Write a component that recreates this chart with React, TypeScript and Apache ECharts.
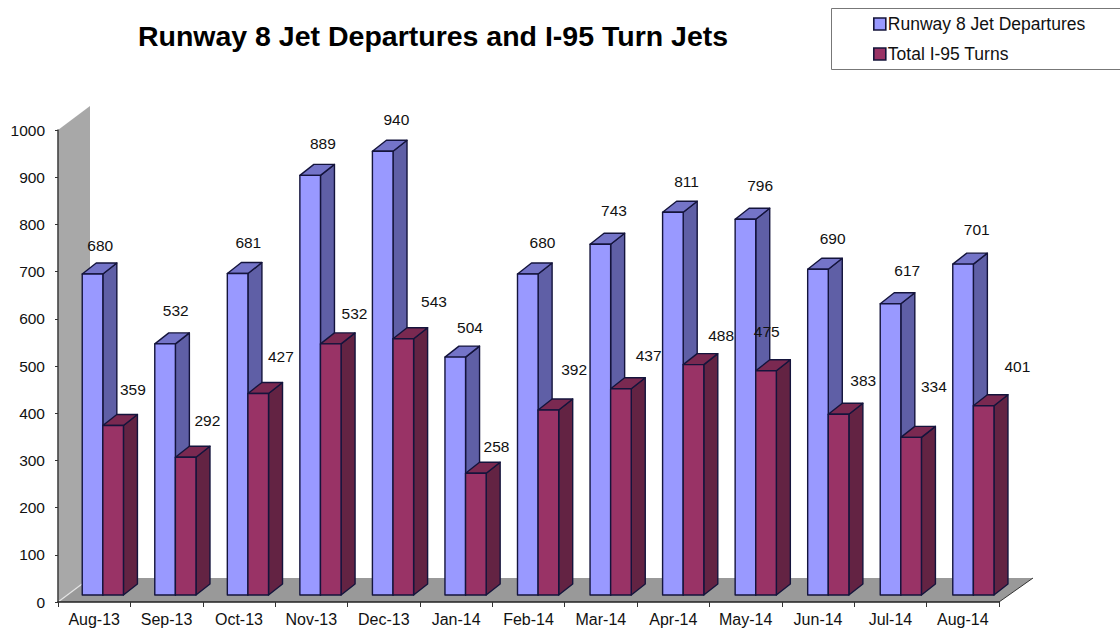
import React, { useEffect, useRef } from "react";
import * as echarts from "echarts";

const categories = ["Aug-13","Sep-13","Oct-13","Nov-13","Dec-13","Jan-14","Feb-14","Mar-14","Apr-14","May-14","Jun-14","Jul-14","Aug-14"];
const departures = [680,532,681,889,940,504,680,743,811,796,690,617,701];
const turns = [359,292,427,532,543,258,392,437,488,475,383,334,401];
const yTicks = [0,1000,100];

// hand-placed data labels of the original chart: centre offset from the bar's front top-left corner
const depLabelDx = [18,21,21,23,24,25,25,24,24,25,25,27,24];
const depLabelDy = [-29,-33,-31,-32,-32,-30,-32,-34,-31,-34,-31,-33,-35];
const turnLabelDx = [30,32,33,34,41,31,36,38,38,11,35,33,44];
const turnLabelDy = [-36,-37,-37,-30,-37,-27,-40,-33,-29,-39,-34,-51,-39];

const FONT = '"Liberation Sans", Arial, sans-serif';
const BAR_W = 20.6;
const BAR_START = -11;
const BAR_DX = 14;
const BAR_DY = -11;
const BASE_LIFT = 7;
const EDGE = "#14143c";

const makeBar = (slot: number, front: string, side: string, top: string) => (params: any, api: any) => {
  const [cx, y0] = api.coord([api.value(0), 0]);
  const [, yv] = api.coord([api.value(0), api.value(1)]);
  const drift = (api.value(0) - 6) * 0.16;
  const x = cx + BAR_START + drift + slot * BAR_W;
  const base = y0 - BASE_LIFT;
  const t = yv - BASE_LIFT;
  const line = { stroke: EDGE, lineWidth: 1.4, lineJoin: "round" };
  return {
    type: "group",
    children: [
      { type: "polygon", shape: { points: [[x + BAR_W, t], [x + BAR_W + BAR_DX, t + BAR_DY], [x + BAR_W + BAR_DX, base + BAR_DY], [x + BAR_W, base]] }, style: { fill: side, ...line } },
      { type: "polygon", shape: { points: [[x, t], [x + BAR_DX, t + BAR_DY], [x + BAR_W + BAR_DX, t + BAR_DY], [x + BAR_W, t]] }, style: { fill: top, ...line } },
      { type: "rect", shape: { x, y: t, width: BAR_W, height: base - t }, style: { fill: front, ...line } },
    ],
  };
};

const makeLabels = (slot: number, dx: number[], dy: number[]) => (params: any, api: any) => {
  const i = api.value(0);
  const [cx] = api.coord([i, 0]);
  const [, yv] = api.coord([i, api.value(1)]);
  const drift = (i - 6) * 0.16;
  const x = cx + BAR_START + drift + slot * BAR_W + dx[params.dataIndex];
  const y = yv - BASE_LIFT + dy[params.dataIndex];
  return {
    type: "text",
    x, y,
    style: { text: String(api.value(1)), fill: "#111", font: `15.5px ${FONT}`, textAlign: "center", textVerticalAlign: "middle" },
  };
};

const renderChrome = (params: any, api: any) => {
  const cs = params.coordSys;
  const [, y0] = api.coord([0, 0]);
  const [, y1] = api.coord([0, 1000]);
  const L = cs.x, R = cs.x + cs.width;
  const wdx = 32, wdy = -24;
  return {
    type: "group",
    silent: true,
    children: [
      { type: "polygon", shape: { points: [[L, y1], [L + wdx, y1 + wdy], [L + wdx, y0 + wdy], [L, y0]] }, style: { fill: "#a8a8a8" } },
      { type: "polygon", shape: { points: [[L, y0], [L + wdx, y0 + wdy], [R + wdx + 2, y0 + wdy], [R, y0]] }, style: { fill: "#999999" } },
      { type: "line", shape: { x1: L, y1: y0, x2: L + 24, y2: y0 - 18 }, style: { stroke: "#e4e4e4", lineWidth: 1.2 } },
      { type: "line", shape: { x1: R, y1: y0, x2: R + wdx + 2, y2: y0 + wdy }, style: { stroke: "#333", lineWidth: 1 } },
    ],
  };
};

export default function App() {
  const ref = useRef<HTMLDivElement>(null);
  useEffect(() => {
    const chart = echarts.init(ref.current!, undefined, { renderer: "svg" });
    chart.setOption({
      animation: false,
      backgroundColor: "#fff",
      title: {
        text: "Runway 8 Jet Departures and I-95 Turn Jets",
        left: 428, top: 16, textAlign: "center",
        textStyle: { fontFamily: FONT, fontSize: 28.5, fontWeight: "bold", color: "#000" },
      },
      legend: {
        left: 873, top: 14, orient: "vertical", itemWidth: 12, itemHeight: 12, itemGap: 10, padding: 0,
        icon: "rect", selectedMode: false,
        data: ["Runway 8 Jet Departures", "Total I-95 Turns"],
        textStyle: { fontFamily: FONT, fontSize: 17.5, color: "#111", padding: [0, 0, 0, -3], lineHeight: 20 },
        itemStyle: { borderColor: "#14143a", borderWidth: 1.6 },
      },
      graphic: [
        { type: "rect", silent: true, shape: { x: 831.5, y: 8.5, width: 320, height: 61 }, style: { fill: "#fff", stroke: "#777", lineWidth: 1 }, z: -1 },
      ],
      grid: { left: 58, top: 130, right: 121, bottom: 29 },
      xAxis: {
        type: "category", data: categories, z: 5,
        axisLine: { lineStyle: { color: "#222", width: 1.6 } },
        axisTick: { show: true, alignWithLabel: false, length: 5, lineStyle: { color: "#333" } },
        axisLabel: { fontFamily: FONT, fontSize: 16, color: "#111", margin: 9, interval: 0 },
      },
      yAxis: {
        type: "value", min: yTicks[0], max: yTicks[1], interval: yTicks[2], z: 5,
        splitLine: { show: false },
        axisLine: { show: true, lineStyle: { color: "#444", width: 1.6 } },
        axisTick: { show: true, length: 3, lineStyle: { color: "#333" } },
        axisLabel: { fontFamily: FONT, fontSize: 15.5, color: "#111", margin: 13, formatter: (v: number) => String(v) },
      },
      series: [
        { type: "custom", name: "chrome", renderItem: renderChrome, data: [[0, 0]], silent: true, encode: { x: 0, y: 1 }, clip: false, z: 1 },
        { type: "custom", name: "Runway 8 Jet Departures", renderItem: makeBar(0, "#9999ff", "#5f5fa6", "#7474c8"), data: departures.map((v, i) => [i, v]), encode: { x: 0, y: 1 }, itemStyle: { color: "#9999ff" }, clip: false, z: 2 },
        { type: "custom", name: "Total I-95 Turns", renderItem: makeBar(1, "#993366", "#632343", "#7a2951"), data: turns.map((v, i) => [i, v]), encode: { x: 0, y: 1 }, itemStyle: { color: "#993366" }, clip: false, z: 3 },
        { type: "custom", name: "depLabels", renderItem: makeLabels(0, depLabelDx, depLabelDy), data: departures.map((v, i) => [i, v]), encode: { x: 0, y: 1 }, clip: false, z: 6 },
        { type: "custom", name: "turnLabels", renderItem: makeLabels(1, turnLabelDx, turnLabelDy), data: turns.map((v, i) => [i, v]), encode: { x: 0, y: 1 }, clip: false, z: 6 },
      ],
    });
    return () => chart.dispose();
  }, []);
  return <div ref={ref} style={{ position: "fixed", left: 0, top: 0, width: 1120, height: 631 }} />;
}
